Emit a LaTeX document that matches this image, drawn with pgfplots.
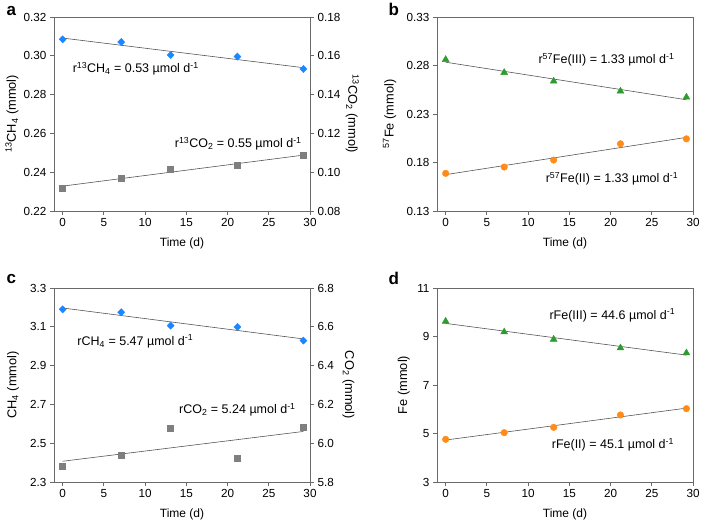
\documentclass[border=0pt]{standalone}
\usepackage{pgfplots}
\pgfplotsset{compat=1.18}
\usepackage{fontspec}
\setmainfont{Liberation Sans}
\definecolor{cblue}{HTML}{1A86FF}
\definecolor{cgray}{HTML}{7F7F7F}
\definecolor{cgreen}{HTML}{2E9B2E}
\definecolor{corange}{HTML}{FF8C1A}
\definecolor{axgray}{HTML}{6A6A6A}
\definecolor{fitgray}{HTML}{555555}
\tikzset{ann/.style={anchor=base west, font=\fontsize{12.5}{13}\selectfont}}
\pgfplotsset{
 base/.style={
  scale only axis, width=256pt, height=194pt,
  xmin=-1.05, xmax=30, xtick={0,5,...,30},
  axis line style={axgray, line width=0.8pt},
  tick style={axgray, line width=0.8pt},
  major tick length=4pt,
  tick align=outside,
  xtick pos=left, ytick pos=left,
  scaled ticks=false,
  ticklabel style={font=\fontsize{11.7}{12}\selectfont, text=black},
  /pgf/number format/assume math mode=true,
  label style={font=\fontsize{12}{13}\selectfont},
  ylabel style={font=\fontsize{12.8}{13}\selectfont},
  xlabel={Time (d)},
  xlabel style={at={(axis description cs:0.5,-0.168)}, anchor=center},
  clip=false,
  anchor=south west,
 },
 fit/.style={fitgray, line width=0.6pt, no marks},
 dmark/.style={only marks, mark=diamond*, mark size=3.6pt, mark options={fill=cblue, draw=cblue, xscale=1.3}},
 dec2/.style={/pgf/number format/.cd, fixed, fixed zerofill, precision=2},
 dec1/.style={/pgf/number format/.cd, fixed, fixed zerofill, precision=1},
}
\begin{document}
\begin{tikzpicture}
\path[use as bounding box] (0pt,0pt) rectangle (701pt,524pt);
% panel letters
\node[anchor=base west, font=\bfseries\fontsize{17}{17}\selectfont] at (3pt,508pt) {a};
\node[anchor=base west, font=\bfseries\fontsize{17}{17}\selectfont] at (385pt,508pt) {b};
\node[anchor=base west, font=\bfseries\fontsize{17}{17}\selectfont] at (3pt,240pt) {c};
\node[anchor=base west, font=\bfseries\fontsize{17}{17}\selectfont] at (385pt,239pt) {d};

% ---------- panel a ----------
\begin{axis}[base, at={(54pt,313pt)},
  ymin=0.22, ymax=0.32, ytick={0.22,0.24,0.26,0.28,0.30,0.32},
  yticklabel style={dec2},
  ylabel={\textsuperscript{13}CH\textsubscript{4} (mmol)},
  ylabel style={at={(axis description cs:-0.164,0.5)}, anchor=center}]
\addplot[fit] coordinates {(0,0.30914) (29.2,0.29387)};
\addplot[dmark]
  coordinates {(0,0.3085) (7.1,0.3071) (13.1,0.3004) (21.2,0.2996) (29.2,0.2932)};
\node[ann] at (axis cs:0.8,0.2912) {r\textsuperscript{13}CH\textsubscript{4} = 0.53 µmol d\textsuperscript{-1}};
\node[ann] at (axis cs:13.19,0.2526) {r\textsuperscript{13}CO\textsubscript{2} = 0.55 µmol d\textsuperscript{-1}};
\end{axis}
\begin{axis}[base, at={(54pt,313pt)}, hide x axis, axis y line*=right, ytick pos=right,
  ymin=0.08, ymax=0.18, ytick={0.08,0.10,0.12,0.14,0.16,0.18},
  yticklabel style={dec2},
  ylabel={\textsuperscript{13}CO\textsubscript{2} (mmol)},
  ylabel style={at={(axis description cs:1.165,0.5)}, anchor=center, rotate=180}]
\addplot[fit] coordinates {(0,0.09282) (29.2,0.1088)};
\addplot[only marks, mark=square*, mark size=3pt, mark options={fill=cgray, draw=cgray}]
  coordinates {(0,0.0920) (7.1,0.0970) (13.1,0.1014) (21.2,0.1037) (29.2,0.1086)};
\end{axis}

% ---------- panel b ----------
\begin{axis}[base, at={(437pt,313pt)},
  ymin=0.13, ymax=0.33, ytick={0.13,0.18,0.23,0.28,0.33},
  yticklabel style={dec2},
  ylabel={\textsuperscript{57}Fe (mmol)},
  ylabel style={at={(axis description cs:-0.185,0.5)}, anchor=center}]
\addplot[fit] coordinates {(0,0.28340) (29.2,0.24468)};
\addplot[fit] coordinates {(0,0.16749) (29.2,0.20589)};
\addplot[only marks, mark=triangle*, mark size=4pt, mark options={fill=cgreen, draw=cgreen}]
  coordinates {(0,0.2861) (7.1,0.2727) (13.1,0.2638) (21.2,0.2535) (29.2,0.2473)};
\addplot[only marks, mark=*, mark size=3.3pt, mark options={fill=corange, draw=corange}]
  coordinates {(0,0.1688) (7.1,0.1753) (13.1,0.1825) (21.2,0.1993) (29.2,0.2044)};
\node[ann] at (axis cs:10.84,0.282) {r\textsuperscript{57}Fe(III) = 1.33 µmol d\textsuperscript{-1}};
\node[ann] at (axis cs:11.72,0.1591) {r\textsuperscript{57}Fe(II) = 1.33 µmol d\textsuperscript{-1}};
\end{axis}

% ---------- panel c ----------
\begin{axis}[base, at={(54pt,42pt)},
  ymin=2.3, ymax=3.3, ytick={2.3,2.5,2.7,2.9,3.1,3.3},
  yticklabel style={dec1},
  ylabel={CH\textsubscript{4} (mmol)},
  ylabel style={at={(axis description cs:-0.16,0.5)}, anchor=center}]
\addplot[fit] coordinates {(0,3.19697) (29.2,3.03739)};
\addplot[dmark]
  coordinates {(0,3.190) (7.1,3.175) (13.1,3.106) (21.2,3.099) (29.2,3.029)};
\node[ann] at (axis cs:1.37,3.0046) {rCH\textsubscript{4} = 5.47 µmol d\textsuperscript{-1}};
\node[ann] at (axis cs:13.71,2.652) {rCO\textsubscript{2} = 5.24 µmol d\textsuperscript{-1}};
\end{axis}
\begin{axis}[base, at={(54pt,42pt)}, hide x axis, axis y line*=right, ytick pos=right,
  ymin=5.8, ymax=6.8, ytick={5.8,6.0,6.2,6.4,6.6,6.8},
  yticklabel style={dec1},
  ylabel={CO\textsubscript{2} (mmol)},
  ylabel style={at={(axis description cs:1.15,0.5)}, anchor=center, rotate=180}]
\addplot[fit] coordinates {(0,5.90694) (29.2,6.0605)};
\addplot[only marks, mark=square*, mark size=3pt, mark options={fill=cgray, draw=cgray}]
  coordinates {(0,5.882) (7.1,5.937) (13.1,6.078) (21.2,5.924) (29.2,6.085)};
\end{axis}

% ---------- panel d ----------
\begin{axis}[base, at={(437pt,42pt)},
  ymin=3, ymax=11, ytick={3,5,7,9,11},
  ylabel={Fe (mmol)},
  ylabel style={at={(axis description cs:-0.13,0.5)}, anchor=center}]
\addplot[fit] coordinates {(0,9.5406) (29.2,8.2324)};
\addplot[fit] coordinates {(0,4.7307) (29.2,6.0462)};
\addplot[only marks, mark=triangle*, mark size=4pt, mark options={fill=cgreen, draw=cgreen}]
  coordinates {(0,9.625) (7.1,9.186) (13.1,8.883) (21.2,8.526) (29.2,8.320)};
\addplot[only marks, mark=*, mark size=3.3pt, mark options={fill=corange, draw=corange}]
  coordinates {(0,4.759) (7.1,5.034) (13.1,5.254) (21.2,5.763) (29.2,6.024)};
\node[ann] at (axis cs:12.17,9.71) {rFe(III) = 44.6 µmol d\textsuperscript{-1}};
\node[ann] at (axis cs:12.45,4.373) {rFe(II) = 45.1 µmol d\textsuperscript{-1}};
\end{axis}
\end{tikzpicture}
\end{document}
